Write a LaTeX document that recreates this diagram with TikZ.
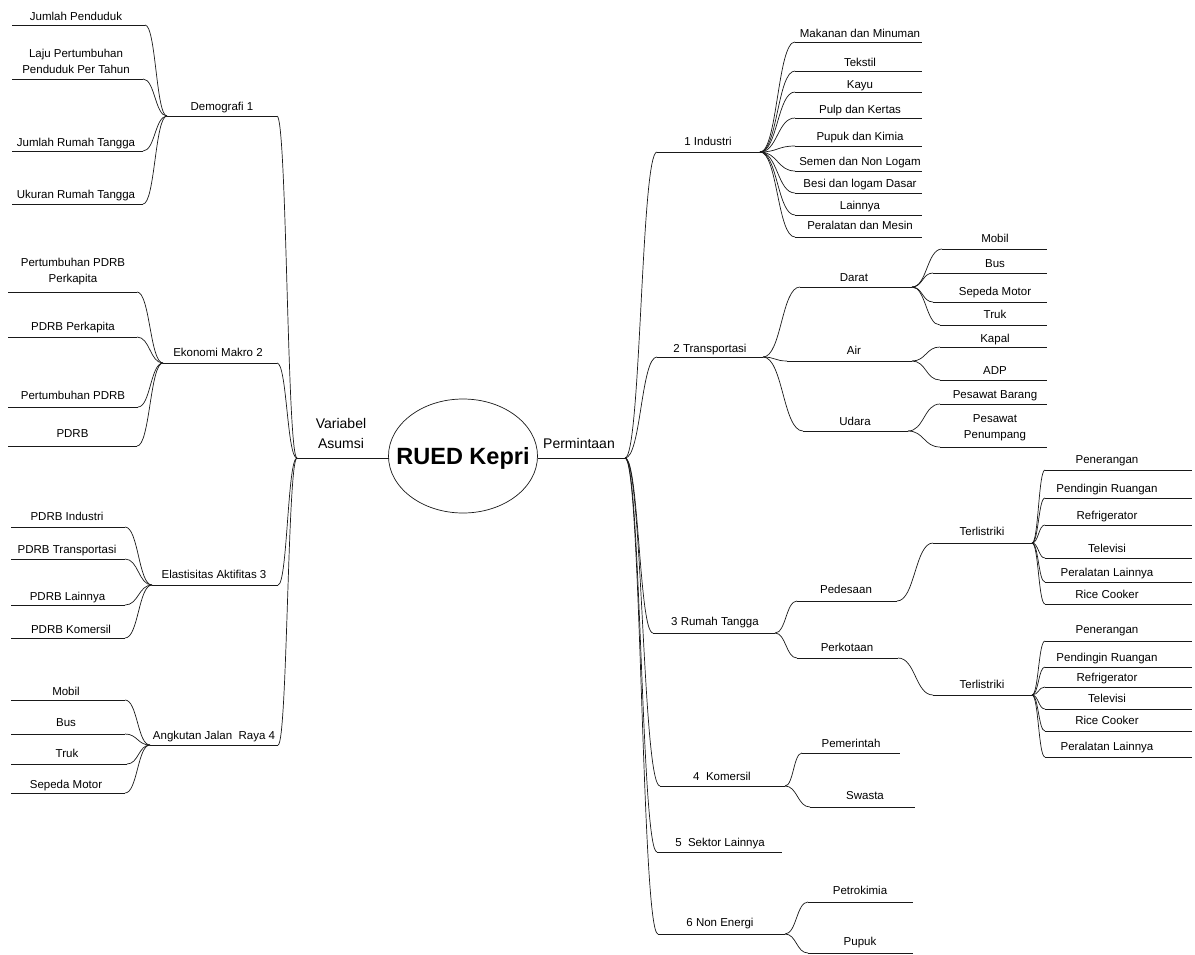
\documentclass[tikz,border=0pt]{standalone}
\usepackage{fontspec}
\setmainfont{Liberation Sans}
\usetikzlibrary{calc,shapes.geometric}
\tikzset{
  ln/.style={draw=black!90, line width=0.7pt},
  lab/.style={inner sep=0pt, anchor=base, yshift=-5pt, font=\fontsize{11.5}{14}\selectfont},
  labII/.style={inner sep=0pt, anchor=center, align=center, font=\fontsize{11.5}{16}\selectfont},
  labbig/.style={inner sep=0pt, anchor=base, align=center, font=\fontsize{14}{20}\selectfont},
  hubtext/.style={inner sep=0pt, font=\fontsize{23.5}{26}\bfseries, text height=17pt, text depth=0pt},
}
% name, x1, x2, y, label x, label y, text
\newcommand\mmleaf[7]{%
  \coordinate (#1-a) at (#2,#4); \coordinate (#1-b) at (#3,#4);
  \draw[ln] (#1-a) -- (#1-b);
  \node[lab] (#1) at (#5,#6) {#7};}
\newcommand\mmleafII[7]{%
  \coordinate (#1-a) at (#2,#4); \coordinate (#1-b) at (#3,#4);
  \draw[ln] (#1-a) -- (#1-b);
  \node[labII] (#1) at (#5,#6) {#7};}
\newcommand\mmcurve[2]{%
  \coordinate (tmpm) at ($(#1)!0.5!(#2)$);
  \draw[ln] (#1) .. controls (tmpm |- #1) and (tmpm |- #2) .. (#2);}
\begin{document}
\begin{tikzpicture}[x=1pt,y=-1pt]
\useasboundingbox (0,0) rectangle (1195,954);

% centre
\node[hubtext] (rued) at (463,456) {RUED Kepri};
\draw[ln] (rued.center) ellipse [x radius=74.5, y radius=57];
\coordinate (ruedW) at ($(rued.center)+(-74.5,2)$);
\coordinate (ruedE) at ($(rued.center)+(74.5,2)$);
\coordinate (va-a) at (297,458);
\draw[ln] (va-a) -- (ruedW);
\node[labbig] (va) at (341,448) {Variabel\\Asumsi};
\coordinate (pm-b) at (625,458);
\draw[ln] (ruedE) -- (pm-b);
\node[labbig] (pm) at (579,448) {Permintaan};

% ---------- left ----------
\mmleaf{dem}{167}{277}{116}{222}{105}{Demografi 1}
\mmleaf{jp}{12}{145}{25}{76}{15}{Jumlah Penduduk}
\mmleafII{lp}{12}{143}{79}{76}{61.5}{Laju Pertumbuhan\\Penduduk Per Tahun}
\mmleaf{jrt}{12}{143}{151}{76}{141}{Jumlah Rumah Tangga}
\mmleaf{urt}{12}{143}{204}{76}{193}{Ukuran Rumah Tangga}

\mmleaf{eko}{163}{277}{363}{218}{351}{Ekonomi Makro 2}
\mmleafII{ppk}{8}{137}{292}{73}{272}{Pertumbuhan PDRB\\Perkapita}
\mmleaf{pk}{8}{137}{337}{73}{325}{PDRB Perkapita}
\mmleaf{pp}{8}{138}{407}{73}{394}{Pertumbuhan PDRB}
\mmleaf{pd}{8}{137}{446}{72.5}{432}{PDRB}

\mmleaf{ela}{152}{278}{585}{214}{573}{Elastisitas Aktifitas 3}
\mmleaf{pi}{11}{125}{527}{67}{515}{PDRB Industri}
\mmleaf{pt}{11}{125}{559}{67}{548}{PDRB Transportasi}
\mmleaf{pl}{11}{125}{605}{67.5}{595}{PDRB Lainnya}
\mmleaf{pko}{11}{125}{638}{71}{628}{PDRB Komersil}

\mmleaf{ajr}{150}{278}{745}{214}{734}{Angkutan Jalan\ \ Raya 4}
\mmleaf{amo}{11}{125}{700}{66}{690}{Mobil}
\mmleaf{abu}{11}{125}{734}{66}{721}{Bus}
\mmleaf{atr}{11}{127}{764}{67}{752}{Truk}
\mmleaf{asm}{11}{125}{793}{66}{783}{Sepeda Motor}

\foreach \c in {dem,eko,ela,ajr} {\mmcurve{va-a}{\c-b}}
\foreach \c in {jp,lp,jrt,urt} {\mmcurve{dem-a}{\c-b}}
\foreach \c in {ppk,pk,pp,pd} {\mmcurve{eko-a}{\c-b}}
\foreach \c in {pi,pt,pl,pko} {\mmcurve{ela-a}{\c-b}}
\foreach \c in {amo,abu,atr,asm} {\mmcurve{ajr-a}{\c-b}}

% ---------- right ----------
\mmleaf{ind}{657}{760}{152}{708}{140}{1 Industri}
\mmleaf{i1}{795}{922}{42}{860}{32}{Makanan dan Minuman}
\mmleaf{i2}{795}{922}{71}{860}{61}{Tekstil}
\mmleaf{i3}{795}{922}{92}{860}{83}{Kayu}
\mmleaf{i4}{795}{922}{118}{860}{108}{Pulp dan Kertas}
\mmleaf{i5}{795}{922}{146}{860}{135}{Pupuk dan Kimia}
\mmleaf{i6}{795}{922}{171}{860}{160}{Semen dan Non Logam}
\mmleaf{i7}{795}{922}{193}{860}{182}{Besi dan logam Dasar}
\mmleaf{i8}{795}{922}{215}{860}{204}{Lainnya}
\mmleaf{i9}{795}{922}{237}{860}{224}{Peralatan dan Mesin}

\mmleaf{tr}{657}{763}{357}{710}{347}{2 Transportasi}
\mmleaf{dar}{800}{912}{287}{854}{276}{Darat}
\mmleaf{air}{787}{912}{361}{854}{349}{Air}
\mmleaf{uda}{803}{908}{431}{855}{420}{Udara}
\mmleaf{dmo}{942}{1047}{249}{995}{237}{Mobil}
\mmleaf{dbu}{933}{1047}{273}{995}{262}{Bus}
\mmleaf{dsm}{933}{1047}{302}{995}{290}{Sepeda Motor}
\mmleaf{dtr}{940}{1047}{325}{995}{313}{Truk}
\mmleaf{aka}{940}{1047}{347}{995}{337}{Kapal}
\mmleaf{aad}{940}{1047}{380}{995}{369}{ADP}
\mmleaf{upb}{940}{1047}{404}{995}{393}{Pesawat Barang}
\mmleafII{upp}{940}{1047}{447}{995}{428}{Pesawat\\Penumpang}

\mmleaf{rt}{653}{775}{633}{715}{620}{3 Rumah Tangga}
\mmleaf{pds}{797}{897}{601}{846}{588}{Pedesaan}
\mmleaf{tla}{933}{1032}{543}{982}{530}{Terlistriki}
\mmleaf{r1}{1045}{1192}{470}{1107}{458}{Penerangan}
\mmleaf{r2}{1045}{1192}{498}{1107}{487}{Pendingin Ruangan}
\mmleaf{r3}{1045}{1192}{525}{1107}{514}{Refrigerator}
\mmleaf{r4}{1045}{1192}{558}{1107}{547}{Televisi}
\mmleaf{r5}{1045}{1192}{582}{1107}{571}{Peralatan Lainnya}
\mmleaf{r6}{1045}{1192}{604}{1107}{593}{Rice Cooker}
\mmleaf{pkt}{797}{898}{658}{847}{646}{Perkotaan}
\mmleaf{tlb}{933}{1032}{695}{982}{683}{Terlistriki}
\mmleaf{u1}{1045}{1192}{641}{1107}{628}{Penerangan}
\mmleaf{u2}{1045}{1192}{667}{1107}{656}{Pendingin Ruangan}
\mmleaf{u3}{1045}{1192}{687}{1107}{676}{Refrigerator}
\mmleaf{u4}{1045}{1192}{709}{1107}{697}{Televisi}
\mmleaf{u5}{1045}{1192}{731}{1107}{719}{Rice Cooker}
\mmleaf{u6}{1045}{1192}{757}{1107}{745}{Peralatan Lainnya}

\mmleaf{kom}{660}{785}{786}{722}{775}{4\ \ Komersil}
\mmleaf{pem}{802}{900}{753}{851}{742}{Pemerintah}
\mmleaf{sws}{810}{915}{807}{865}{794}{Swasta}
\mmleaf{sl}{657}{782}{852}{720}{841}{5\ \ Sektor Lainnya}
\mmleaf{ne}{658}{785}{934}{720}{921}{6 Non Energi}
\mmleaf{pet}{808}{913}{902}{860}{889}{Petrokimia}
\mmleaf{puk}{808}{913}{953}{860}{940}{Pupuk}

\foreach \c in {ind,tr,rt,kom,sl,ne} {\mmcurve{pm-b}{\c-a}}
\foreach \c in {i1,i2,i3,i4,i5,i6,i7,i8,i9} {\mmcurve{ind-b}{\c-a}}
\foreach \c in {dar,air,uda} {\mmcurve{tr-b}{\c-a}}
\foreach \c in {dmo,dbu,dsm,dtr} {\mmcurve{dar-b}{\c-a}}
\foreach \c in {aka,aad} {\mmcurve{air-b}{\c-a}}
\foreach \c in {upb,upp} {\mmcurve{uda-b}{\c-a}}
\foreach \c in {pds,pkt} {\mmcurve{rt-b}{\c-a}}
\mmcurve{pds-b}{tla-a}
\mmcurve{pkt-b}{tlb-a}
\foreach \c in {r1,r2,r3,r4,r5,r6} {\mmcurve{tla-b}{\c-a}}
\foreach \c in {u1,u2,u3,u4,u5,u6} {\mmcurve{tlb-b}{\c-a}}
\foreach \c in {pem,sws} {\mmcurve{kom-b}{\c-a}}
\foreach \c in {pet,puk} {\mmcurve{ne-b}{\c-a}}
\end{tikzpicture}
\end{document}
